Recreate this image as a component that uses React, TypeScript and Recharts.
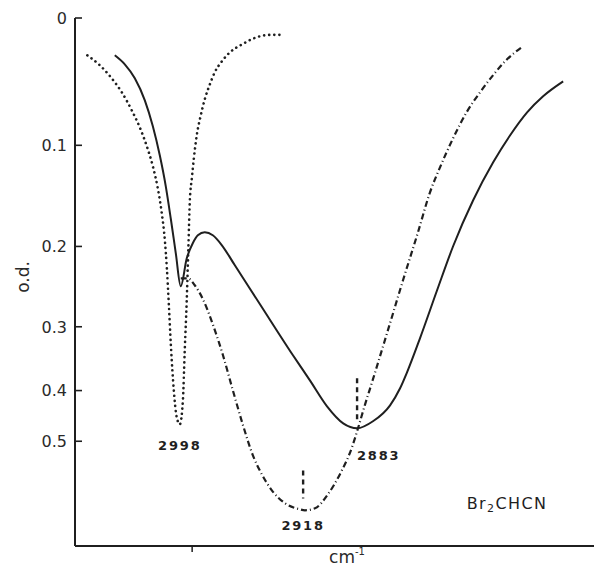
import { LineChart, Line, XAxis, YAxis, ReferenceDot, ReferenceLine } from 'recharts';

const INK = '#1f1f1f';
const FONT = '"DejaVu Sans", Arial, sans-serif';

// traces: wavenumber (cm-1) and optical density
const dottedWn = [3058, 3049.9, 3042.2, 3035.7, 3029.2, 3024, 3019.4, 3015.5, 3012.3, 3009.7, 3007.7, 3006.4, 3005.1, 3003.8, 3001.9, 3000, 2998, 2996, 2994.8, 2993.5, 2992.5, 2991.5, 2990.2, 2988.9, 2987, 2984.4, 2981.8, 2978.5, 2975.3, 2970.7, 2965.5, 2957.7, 2951, 2946, 2939.6, 2931.8];
const dottedOd = [0.027, 0.0345, 0.0445, 0.0554, 0.0701, 0.0844, 0.1009, 0.1189, 0.1397, 0.1646, 0.1932, 0.225, 0.2709, 0.3267, 0.3995, 0.4498, 0.4639, 0.4175, 0.334, 0.264, 0.204, 0.152, 0.1302, 0.1117, 0.0912, 0.0743, 0.0611, 0.0492, 0.0398, 0.0315, 0.0248, 0.019, 0.015, 0.013, 0.012, 0.012];

const solidWn = [3040.2, 3033.7, 3027.2, 3020.7, 3015.5, 3011, 3007.1, 3003.8, 3000.6, 2997.4, 2993.5, 2989.6, 2986.3, 2981.8, 2976.6, 2970.7, 2962.3, 2946, 2924.6, 2913.6, 2902.5, 2892, 2883, 2872.7, 2861.6, 2855.1, 2850.6, 2842.2, 2831.1, 2820.7, 2807.7, 2794.7, 2783.7, 2772.7, 2762.3, 2749.3];
const solidOd = [0.027, 0.0338, 0.0445, 0.062, 0.0835, 0.1089, 0.1378, 0.1708, 0.2077, 0.2467, 0.2134, 0.1965, 0.1878, 0.1846, 0.1878, 0.1987, 0.2215, 0.2696, 0.3419, 0.3823, 0.4286, 0.4619, 0.4721, 0.4578, 0.4268, 0.396, 0.369, 0.3165, 0.2517, 0.1998, 0.1515, 0.1153, 0.0912, 0.0718, 0.0587, 0.0469];

const dashWn = [2997.4, 2992.8, 2988.3, 2983, 2976.6, 2970, 2963.6, 2957, 2950.6, 2944.8, 2938.3, 2929.8, 2920.1, 2916.8, 2910.3, 2901.9, 2893.5, 2886.3, 2882.4, 2878, 2873.3, 2863.6, 2853.2, 2843.5, 2835.7, 2829.2, 2820.7, 2811.6, 2803.2, 2794.7, 2785.7, 2775.3];
const dashOd = [0.237, 0.237, 0.2455, 0.2631, 0.2966, 0.3419, 0.3995, 0.466, 0.5324, 0.5804, 0.6253, 0.6655, 0.6855, 0.6889, 0.6822, 0.6372, 0.575, 0.5136, 0.4721, 0.4268, 0.3856, 0.3093, 0.2393, 0.1846, 0.1436, 0.1199, 0.0938, 0.071, 0.0555, 0.042, 0.03, 0.0203];

const odTicks = [0, 0.1, 0.2, 0.3, 0.4, 0.5];
const xTicks = [2990];

const peakLabels = ['2998', '2918', '2883'];
const peakLabelWn = [2998, 2918, 2869];
const peakLabelOd = [0.509, 0.7435, 0.532];

const markerWn = [2918, 2883];
const markerTopOd = [0.57, 0.379];
const markerBottomOd = [0.65, 0.458];

const compound = { wn: 2785.7, od: 0.6655 };

// the o.d. axis is drawn linear in transmittance
const toT = (od: number) => Math.pow(10, -od);
const makeSeries = (wn: number[], od: number[]) => wn.map((w, i) => ({ wn: w, t: toT(od[i]) }));

const dotted = makeSeries(dottedWn, dottedOd);
const solid = makeSeries(solidWn, solidOd);
const dashed = makeSeries(dashWn, dashOd);

const X_DOMAIN: [number, number] = [2728, 3066];
const Y_DOMAIN: [number, number] = [0.147, 1];
const yTicks = odTicks.map(toT);

const fmtOd = (t: number) => {
  const od = Math.round(-Math.log10(t) * 10) / 10;
  return od === 0 ? '0' : od.toFixed(1);
};

const LeftTick = ({ x, y, payload }: any) => (
  <g>
    <line x1={x} x2={x + 7} y1={y} y2={y} stroke={INK} strokeWidth={1.6} />
    <text x={x - 8} y={y} dy="0.36em" textAnchor="end" fontSize={16} fill="#2a2a2a" fontFamily={FONT}>
      {fmtOd(payload.value)}
    </text>
  </g>
);

const RightTick = ({ x, y, payload }: any) =>
  payload.value >= 0.999 ? <g /> : <line x1={x - 8} x2={x} y1={y} y2={y} stroke={INK} strokeWidth={1.6} />;

const BottomTick = ({ x, y }: any) => (
  <g>
    <line x1={x} x2={x} y1={y} y2={y + 6} stroke={INK} strokeWidth={1.5} />
  </g>
);

const peakLabel = (text: string) => ({
  value: text,
  position: 'center' as const,
  fontSize: 13,
  fill: INK,
  letterSpacing: 1.8,
  fontFamily: FONT,
  fontWeight: 600,
});

export default function App() {
  return (
    <div style={{ position: 'absolute', left: 0, top: 0, width: 594, height: 567, overflow: 'hidden', background: '#fff' }}>
      <LineChart width={600} height={567} margin={{ top: 18, right: 4, bottom: 0, left: 0 }}>
        <XAxis
          dataKey="wn"
          type="number"
          domain={X_DOMAIN}
          allowDataOverflow
          reversed
          ticks={xTicks}
          height={21}
          tickSize={0}
          tickMargin={0}
          tick={<BottomTick />}
          axisLine={{ stroke: INK, strokeWidth: 2 }}
          label={{
            content: ({ viewBox }: any) => (
              <text x={viewBox.x + 272} y={viewBox.y + 17} textAnchor="middle" fontSize={17} fill="#2a2a2a" fontFamily={FONT}>
                cm<tspan dy={-8} fontSize={10}>-1</tspan>
              </text>
            ),
          }}
        />
        <XAxis
          xAxisId="top"
          orientation="top"
          dataKey="wn"
          type="number"
          domain={X_DOMAIN}
          allowDataOverflow
          reversed
          height={0}
          tick={false}
          tickLine={false}
          axisLine={{ stroke: INK, strokeWidth: 2 }}
        />
        <YAxis
          type="number"
          domain={Y_DOMAIN}
          allowDataOverflow
          ticks={yTicks}
          interval={0}
          width={75}
          tickSize={0}
          tickMargin={0}
          tick={<LeftTick />}
          axisLine={{ stroke: INK, strokeWidth: 2 }}
          label={{
            content: ({ viewBox }: any) => {
              const cx = viewBox.x + 23;
              const cy = viewBox.y + viewBox.height / 2 - 5;
              return (
                <text x={cx} y={cy} transform={`rotate(-90 ${cx} ${cy})`} textAnchor="middle" dominantBaseline="central" fontSize={17} fill="#2a2a2a" fontFamily={FONT}>
                  o.d.
                </text>
              );
            },
          }}
        />
        <YAxis
          yAxisId="right"
          orientation="right"
          type="number"
          domain={Y_DOMAIN}
          allowDataOverflow
          ticks={yTicks}
          interval={0}
          width={0}
          tickSize={0}
          tickMargin={0}
          tick={<RightTick />}
          axisLine={false}
        />

        <Line data={dotted} dataKey="t" type="monotone" stroke={INK} strokeWidth={2.6} strokeDasharray="0.1 5" strokeLinecap="round" dot={false} activeDot={false} isAnimationActive={false} />
        <Line data={solid} dataKey="t" type="monotone" stroke={INK} strokeWidth={2} dot={false} activeDot={false} isAnimationActive={false} />
        <Line data={dashed} dataKey="t" type="monotone" stroke={INK} strokeWidth={2.2} strokeDasharray="6 3 1 3" dot={false} activeDot={false} isAnimationActive={false} />

        {markerWn.map((w, i) => (
          <ReferenceLine
            key={`m${i}`}
            segment={[{ x: w, y: toT(markerTopOd[i]) }, { x: w, y: toT(markerBottomOd[i]) }]}
            stroke={INK}
            strokeWidth={2.4}
            strokeDasharray="5 4"
          />
        ))}

        {peakLabels.map((text, i) => (
          <ReferenceDot key={text} x={peakLabelWn[i]} y={toT(peakLabelOd[i])} r={0} fill="none" stroke="none" label={peakLabel(text)} />
        ))}

        <ReferenceDot
          x={compound.wn}
          y={toT(compound.od)}
          r={0}
          fill="none"
          stroke="none"
          label={{
            content: ({ viewBox }: any) => {
              const cx = viewBox.x + viewBox.width / 2;
              const cy = viewBox.y + viewBox.height / 2;
              return (
                <text x={cx} y={cy} textAnchor="middle" dominantBaseline="central" fontSize={16} letterSpacing={1.4} fill={INK} fontFamily={FONT}>
                  Br<tspan dy={5} fontSize={11}>2</tspan>
                  <tspan dy={-5}>CHCN</tspan>
                </text>
              );
            },
          }}
        />
      </LineChart>
    </div>
  );
}
